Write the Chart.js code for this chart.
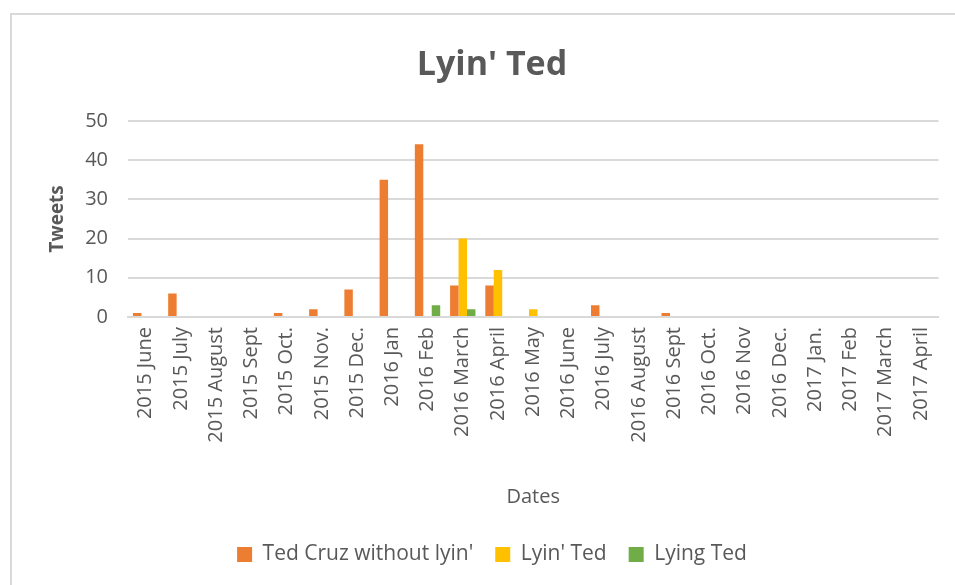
<!DOCTYPE html>
<html lang="en">
<head>
    <meta charset="UTF-8">
    <title>Lyin' Ted</title>
    <script src="https://cdn.jsdelivr.net/npm/chart.js@4.4.0/dist/chart.umd.min.js"></script>
    <style>
        html, body { margin: 0; padding: 0; background: #fff; overflow: hidden; }
        #frame { position: absolute; left: 10px; top: 13px; width: 960px; height: 590px;
                 border-left: 2px solid #d9d9d9; border-top: 2px solid #d9d9d9; }
        #dvCanvas { position: absolute; left: 0; top: 0; }
    </style>
</head>
<body>
    <div id="frame"></div>
    <canvas id="dvCanvas" width="955" height="585"></canvas>

    <script>
        // months on the x axis
        var months = [
            "2015 June", "2015 July", "2015 August", "2015 Sept", "2015 Oct.", "2015 Nov.",
            "2015 Dec.", "2016 Jan", "2016 Feb", "2016 March", "2016 April", "2016 May",
            "2016 June", "2016 July", "2016 August", "2016 Sept", "2016 Oct.", "2016 Nov",
            "2016 Dec.", "2017 Jan.", "2017 Feb", "2017 March", "2017 April"
        ];

        // tweet counts per month
        var tedCruzWithoutLyin = [1, 6, 0, 0, 1, 2, 7, 35, 44, 8, 8, 0, 0, 3, 0, 1, 0, 0, 0, 0, 0, 0, 0];
        var lyinTed            = [0, 0, 0, 0, 0, 0, 0, 0, 0, 20, 12, 2, 0, 0, 0, 0, 0, 0, 0, 0, 0, 0, 0];
        var lyingTed           = [0, 0, 0, 0, 0, 0, 0, 0, 3, 2, 0, 0, 0, 0, 0, 0, 0, 0, 0, 0, 0, 0, 0];

        var yTicks = [0, 10, 20, 30, 40, 50];

        var textColor = '#595959';
        var gridColor = '#d9d9d9';
        var fontName = "'Open Sans', 'Liberation Sans', sans-serif";

        Chart.defaults.font.family = fontName;
        Chart.defaults.color = textColor;

        var ctx = document.getElementById('dvCanvas').getContext('2d');
        var chart = new Chart(ctx, {
            type: 'bar',
            data: {
                labels: months,
                datasets: [
                    { label: "Ted Cruz without lyin'", data: tedCruzWithoutLyin, backgroundColor: '#ED7D31' },
                    { label: "Lyin' Ted", data: lyinTed, backgroundColor: '#FFC000' },
                    { label: "Lying Ted", data: lyingTed, backgroundColor: '#70AD47' }
                ]
            },
            options: {
                responsive: false,
                animation: false,
                categoryPercentage: 0.72,
                barPercentage: 1.0,
                layout: { padding: { left: 36, right: 7, top: 0, bottom: 10 } },
                plugins: {
                    tooltip: { enabled: false },
                    title: {
                        display: true,
                        text: "Lyin' Ted",
                        color: textColor,
                        font: { size: 34, weight: 'bold' },
                        padding: { top: 45, bottom: 35 }
                    },
                    legend: {
                        position: 'bottom',
                        labels: {
                            boxWidth: 15,
                            boxHeight: 15,
                            padding: 22,
                            color: textColor,
                            font: { size: 21 }
                        }
                    }
                },
                scales: {
                    x: {
                        grid: { display: false, drawTicks: false },
                        border: { color: gridColor, width: 2 },
                        ticks: {
                            autoSkip: false,
                            minRotation: 90,
                            maxRotation: 90,
                            padding: 10,
                            color: textColor,
                            font: { size: 20 }
                        },
                        title: {
                            display: true,
                            text: 'Dates',
                            color: textColor,
                            font: { size: 20 },
                            padding: { top: 0, bottom: 13 }
                        },
                        afterFit: function(scale) { scale.height = 205; }
                    },
                    y: {
                        min: 0,
                        max: 50,
                        afterBuildTicks: function(scale) {
                            scale.ticks = yTicks.map(function(v) { return { value: v }; });
                        },
                        grid: { color: gridColor, lineWidth: 2, drawTicks: false },
                        border: { display: false },
                        ticks: { padding: 20, color: textColor, font: { size: 20 } },
                        title: {
                            display: true,
                            text: 'Tweets',
                            color: textColor,
                            font: { size: 19, weight: 'bold' },
                            padding: { top: 10, bottom: 0 }
                        },
                        afterFit: function(scale) { scale.width = 92; }
                    }
                }
            }
        });
    </script>
</body>
</html>
